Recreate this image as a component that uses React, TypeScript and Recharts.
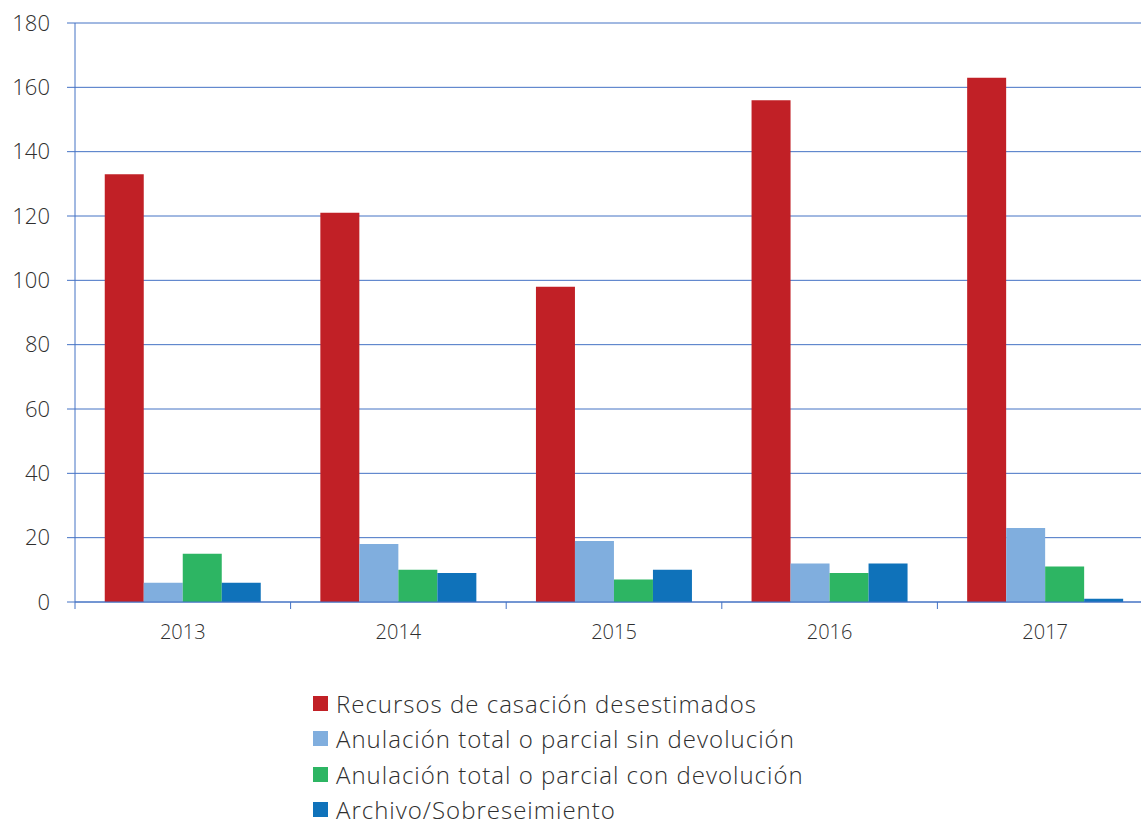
import { BarChart, Bar, XAxis, YAxis, CartesianGrid } from "recharts"

const YEARS = ["2013", "2014", "2015", "2016", "2017"]
const RECURSOS = [133, 121, 98, 156, 163]
const SIN_DEVOLUCION = [6, 18, 19, 12, 23]
const CON_DEVOLUCION = [15, 10, 7, 9, 11]
const ARCHIVO = [6, 9, 10, 12, 1]
const Y_TICKS = [0, 20, 40, 60, 80, 100, 120, 140, 160, 180]

const SERIES = [
    { key: "recursos", name: "Recursos de casación desestimados", color: "#C12026" },
    { key: "sin", name: "Anulación total o parcial sin devolución", color: "#80AEDE" },
    { key: "con", name: "Anulación total o parcial con devolución", color: "#2DB563" },
    { key: "archivo", name: "Archivo/Sobreseimiento", color: "#0F72BA" },
]

const rows = YEARS.map((year, i) => ({
    year,
    recursos: RECURSOS[i],
    sin: SIN_DEVOLUCION[i],
    con: CON_DEVOLUCION[i],
    archivo: ARCHIVO[i],
}))

const AXIS_BLUE = "#4472C4"
const FONT = "'Open Sans', 'Noto Sans', sans-serif"
const CHART_W = 1160
const CHART_H = 660
const MARGIN = { top: 23, right: 7, left: 0, bottom: 0 }
const Y_W = 75
const PLOT_W = CHART_W - Y_W - MARGIN.right

// label in the middle of the band, tick mark on the band's left edge
const YearTick = (props: any) => {
    const { x, y, payload } = props
    const band = PLOT_W / YEARS.length
    const edge = x - band / 2
    return (
        <g>
            <line x1={edge} x2={edge} y1={y} y2={y + 7} stroke={AXIS_BLUE} strokeWidth={1} />
            <text x={x} y={y + 37} textAnchor="middle" fill="#2f2f2f" fontSize={20} fontWeight={300} fontFamily={FONT}>
                {payload.value}
            </text>
        </g>
    )
}

export default function App() {
    return (
        <div style={{ position: "absolute", left: 0, top: 0, width: 1141, height: 822, overflow: "hidden", background: "#fff", fontFamily: FONT }}>
            <BarChart width={CHART_W} height={CHART_H} data={rows} margin={MARGIN} barCategoryGap="13.8%" barGap={0}>
                <CartesianGrid vertical={false} stroke={AXIS_BLUE} strokeWidth={1} />
                <XAxis
                    dataKey="year"
                    height={CHART_H - 602}
                    axisLine={{ stroke: AXIS_BLUE }}
                    tickLine={false}
                    tickSize={0}
                    tickMargin={0}
                    tick={<YearTick />}
                    interval={0}
                />
                <YAxis
                    width={Y_W}
                    domain={[0, 180]}
                    ticks={Y_TICKS}
                    axisLine={{ stroke: AXIS_BLUE }}
                    tickLine={{ stroke: AXIS_BLUE }}
                    tickSize={8}
                    tickMargin={17}
                    tick={{ fill: "#2f2f2f", fontSize: 22, fontWeight: 300, fontFamily: FONT }}
                    interval={0}
                />
                {SERIES.map((s) => (
                    <Bar key={s.key} dataKey={s.key} name={s.name} fill={s.color} isAnimationActive={false} />
                ))}
            </BarChart>
            <ul style={{ position: "absolute", left: 313, top: 686, margin: 0, padding: 0, listStyle: "none" }}>
                {SERIES.map((s) => (
                    <li key={s.key} style={{ display: "flex", alignItems: "center", height: 35.3, fontSize: 24, letterSpacing: 1, fontWeight: 300, color: "#2f2f2f", whiteSpace: "nowrap" }}>
                        <span style={{ width: 15, height: 15, background: s.color, marginRight: 8, flexShrink: 0 }} />
                        {s.name}
                    </li>
                ))}
            </ul>
        </div>
    )
}
